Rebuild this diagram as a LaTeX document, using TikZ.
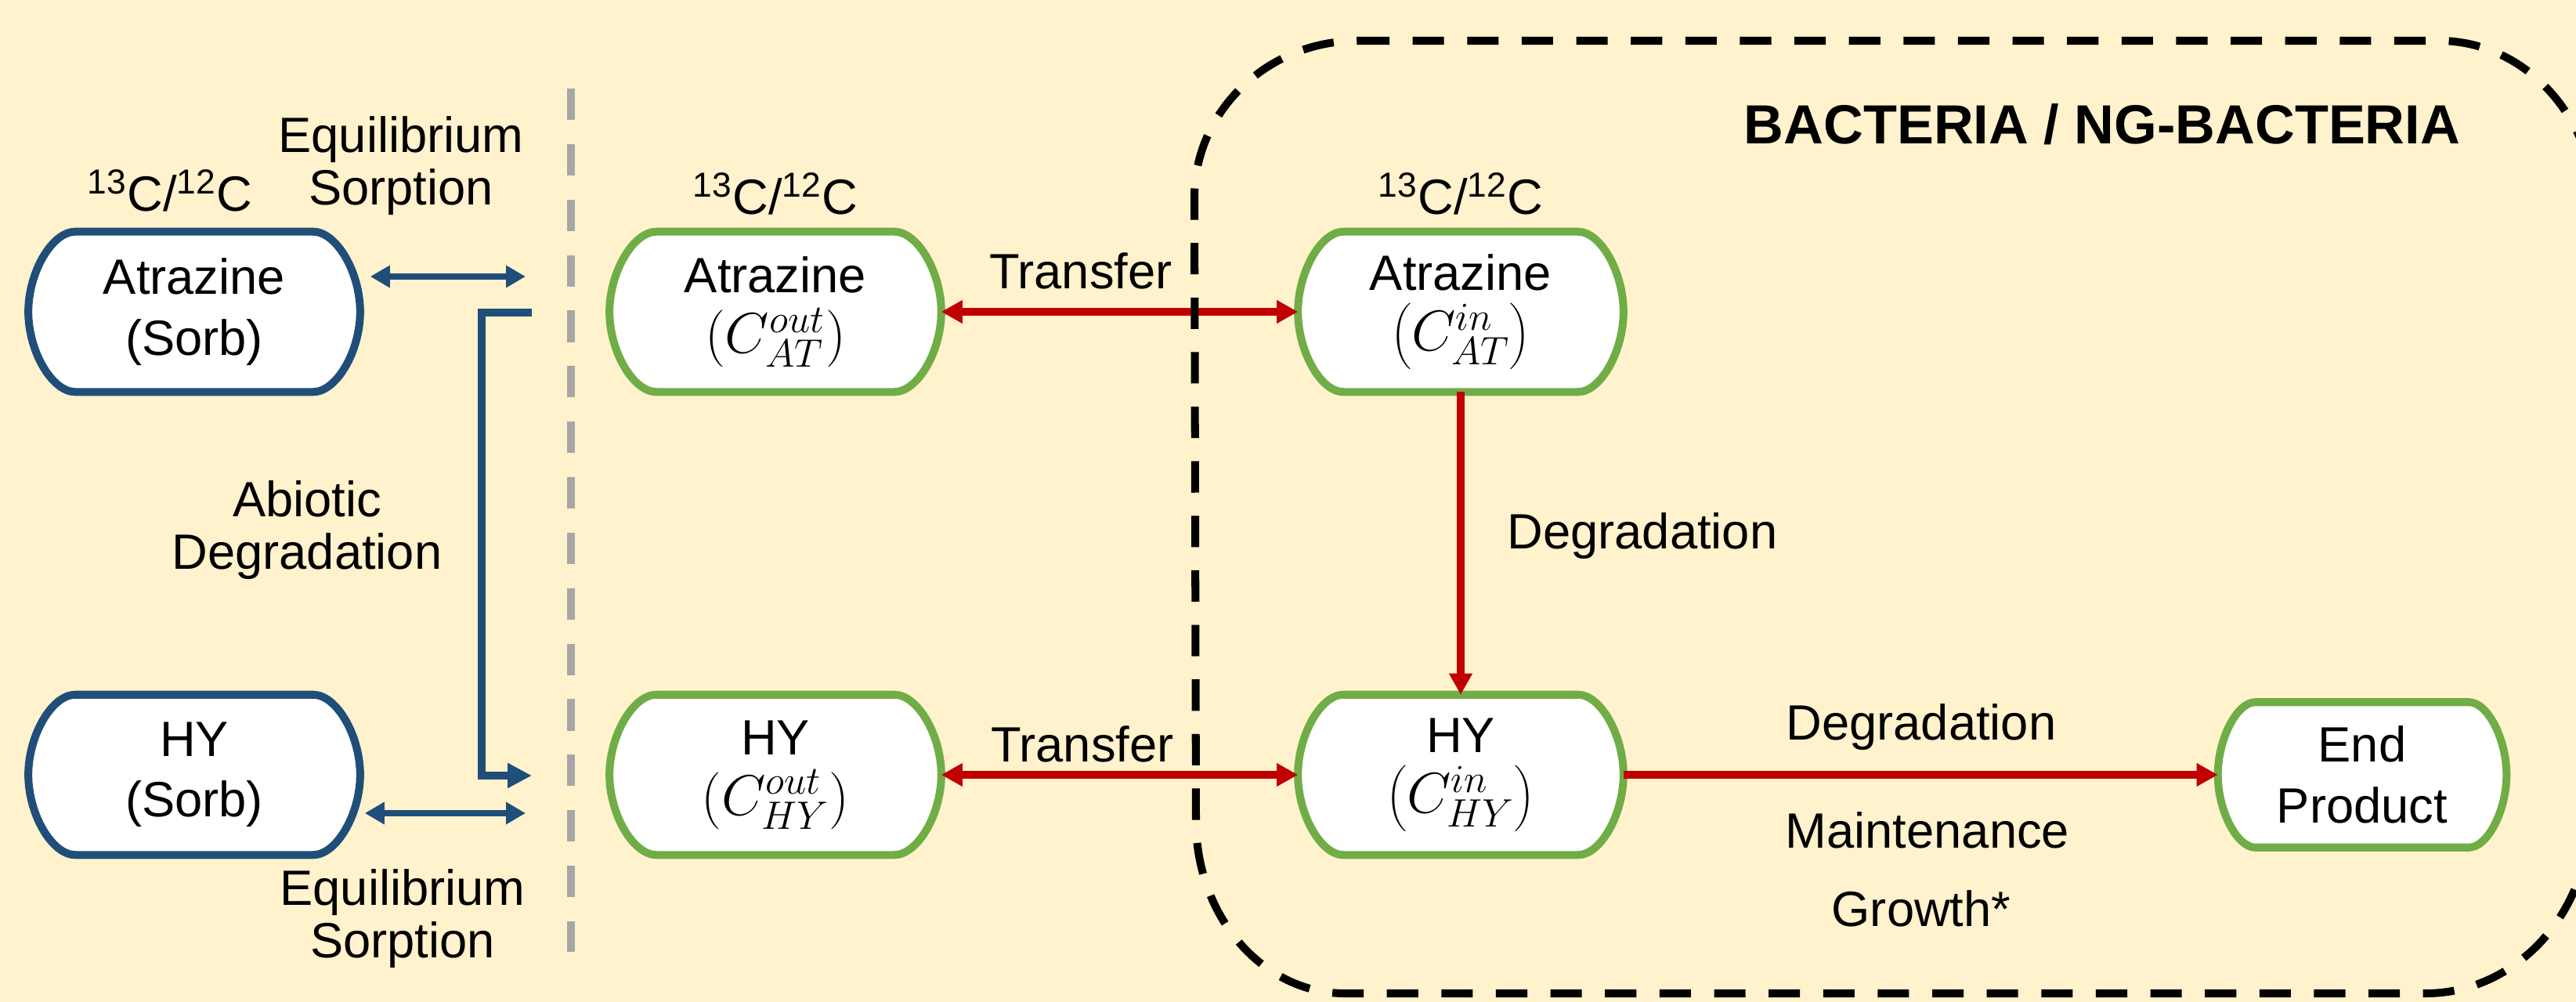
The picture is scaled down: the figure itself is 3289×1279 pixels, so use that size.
\documentclass[tikz,border=0pt]{standalone}
\usepackage{fontspec}
\setmainfont{Liberation Sans}
\usetikzlibrary{arrows.meta,calc}
\definecolor{bgbeige}{HTML}{FFF2CC}
\definecolor{sorbblue}{HTML}{1F4E79}
\definecolor{leafgreen}{HTML}{70AD47}
\definecolor{arrowred}{HTML}{C00000}
\definecolor{sepgray}{HTML}{A6A6A6}
\pgfdeclarelayer{bglayer}
\pgfdeclarelayer{shapelayer}
\pgfsetlayers{bglayer,shapelayer,main}
% #1 node name, #2 inset of straight edge, #3 vertical control offset, #4 style
\newcommand{\pillshape}[4]{%
  \path[#4] ($(#1.north west)+(#2,0)$) -- ($(#1.north east)+(-#2,0)$)
    .. controls ($(#1.north east)+(-#2/2,0)$) and ($(#1.east)+(0,-#3)$) .. (#1.east)
    .. controls ($(#1.east)+(0,#3)$) and ($(#1.south east)+(-#2/2,0)$) .. ($(#1.south east)+(-#2,0)$)
    -- ($(#1.south west)+(#2,0)$)
    .. controls ($(#1.south west)+(#2/2,0)$) and ($(#1.west)+(0,#3)$) .. (#1.west)
    .. controls ($(#1.west)+(0,-#3)$) and ($(#1.north west)+(#2/2,0)$) .. cycle;}
\newcommand{\conc}[2]{{\fontsize{20.5}{22}\selectfont$\left(C^{#1}_{#2}\right)$}}
\begin{document}
\begin{tikzpicture}[x=0.01cm,y=-0.01cm,
  txt/.style={font=\fontsize{18}{19}\selectfont, align=center, inner sep=0pt},
  boxtxt/.style={rectangle, inner sep=0pt, align=center, font=\fontsize{18}{22}\selectfont},
  bigbox/.style={boxtxt, minimum width=4.22cm, minimum height=2.03cm},
  inbox/.style={boxtxt, minimum width=4.14cm, minimum height=2.03cm},
  endbox/.style={boxtxt, minimum width=3.67cm, minimum height=1.84cm},
  sorbshape/.style={draw=sorbblue, fill=white, line width=2.85pt},
  greenshape/.style={draw=leafgreen, fill=white, line width=2.85pt},
  sepline/.style={draw=sepgray, line width=2.85pt, dash pattern=on 11.4pt off 8.75pt},
  bactbox/.style={draw=black, line width=2.85pt, dash pattern=on 11.4pt off 8.4pt},
  bluedbl/.style={draw=sorbblue, line width=2pt, {Triangle[length=7.1pt,width=7.7pt]}-{Triangle[length=7.1pt,width=7.7pt]}},
  blueelbow/.style={draw=sorbblue, line width=2.85pt, line join=miter, -{Triangle[length=8.8pt,width=8.6pt]}},
  redline/.style={draw=arrowred, line width=2.6pt},
  redtip/.style={arrows={-Triangle[length=7.7pt,width=8pt]}},
  redboth/.style={arrows={Triangle[length=7.7pt,width=8pt]-Triangle[length=7.7pt,width=8pt]}}
]
\useasboundingbox (0,0) rectangle (3289,1279);
\clip (0,0) rectangle (3289,1279);
\begin{pgfonlayer}{bglayer}
  \fill[bgbeige] (0,0) rectangle (3289,1279);
\end{pgfonlayer}

% boxes
\node[bigbox] (Asorb) at (248,398) {Atrazine\\(Sorb)};
\node[bigbox] (Hsorb) at (248,989) {HY\\(Sorb)};
\node[bigbox] (Aout) at (990,398) {Atrazine\\\conc{out}{AT}};
\node[bigbox] (Hout) at (990,989) {HY\\\conc{out}{HY}};
\node[inbox] (Ain) at (1865,398) {Atrazine\\\conc{in}{AT}};
\node[inbox] (Hin) at (1865,989) {HY\\\conc{in}{HY}};
\node[endbox] (End) at (3016,989) {End\\Product};

\begin{pgfonlayer}{shapelayer}
  \pillshape{Asorb}{60}{50}{sorbshape}
  \pillshape{Hsorb}{60}{50}{sorbshape}
  \pillshape{Aout}{60}{50}{greenshape}
  \pillshape{Hout}{60}{50}{greenshape}
  \pillshape{Ain}{58}{50}{greenshape}
  \pillshape{Hin}{58}{50}{greenshape}
  \pillshape{End}{48}{45}{greenshape}
\end{pgfonlayer}

% labels
\node[txt] (isoL) at (217,243) {\textsuperscript{13}C/\textsuperscript{12}C};
\node[txt] (isoM) at (990,247) {\textsuperscript{13}C/\textsuperscript{12}C};
\node[txt] (isoR) at (1865,247) {\textsuperscript{13}C/\textsuperscript{12}C};
\node[txt] (eqTop) at (512,212) {Equilibrium\\Sorption};
\node[txt] (eqBot) at (514,1173) {Equilibrium\\Sorption};
\node[txt] (abio) at (392,677) {Abiotic\\Degradation};
\node[txt] (trT) at (1380,346) {Transfer};
\node[txt] (trB) at (1382,950) {Transfer};
\node[txt] (degV) at (2097,684) {Degradation};
\node[txt] (degH) at (2453,928) {Degradation};
\node[txt] (maint) at (2461,1060) {Maintenance};
\node[txt] (growth) at (2453,1160) {Growth*};
\node[inner sep=0pt, font=\fontsize{20}{24}\selectfont\bfseries] (bact) at (2684,159) {BACTERIA / NG-BACTERIA};

% gray separator
\coordinate (gTop) at (729,113);
\coordinate (gBot) at (729,1215);
\draw[sepline] (gTop) -- (gBot);

% blue connectors
\coordinate (sA) at (671,353);
\coordinate (sH) at (671,1038);
\draw[bluedbl] ($(Asorb.east)+(13,-45)$) -- (sA);
\draw[bluedbl] ($(Hsorb.east)+(6,49)$) -- (sH);
\coordinate (eTop) at (679,399);
\coordinate (eBot) at (679,990);
\draw[blueelbow] (eTop) -- ++(-64,0) |- (eBot);

% red connectors
\draw[redline,redboth] (Aout.east) -- (Ain.west);
\draw[redline,redboth] (Hout.east) -- (Hin.west);
\draw[redline,redtip] (Ain.south) -- (Hin.north);
\draw[redline,redtip] (Hin.east) -- (End.west);

% bacteria compartment
\draw[bactbox] (1734,52) -- (3114,52)
  .. controls (3224.5,52) and (3314,150.5) .. (3314,272)
  -- (3307,1038)
  .. controls (3307,1165) and (3213,1268) .. (3097,1268)
  -- (1717,1268)
  .. controls (1612,1268) and (1527,1169.5) .. (1527,1048)
  -- (1525,252)
  .. controls (1525,141.5) and (1618.6,52) .. cycle;
\end{tikzpicture}
\end{document}
